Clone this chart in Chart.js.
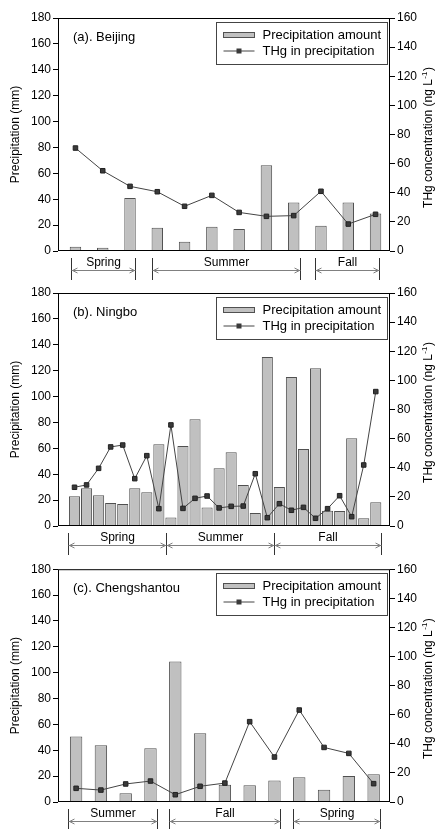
<!DOCTYPE html>
<html>
<head>
<meta charset="utf-8">
<title>Precipitation amount and THg in precipitation</title>
<script src="https://cdn.jsdelivr.net/npm/chart.js@4.4.1/dist/chart.umd.min.js"></script>
<style>
    html, body { margin: 0; padding: 0; background: #fff; }
    #wrap { position: relative; width: 435px; height: 829px; overflow: hidden; }
    #wrap canvas { position: absolute; left: 0; }
</style>
</head>
<body>
<div id="wrap">
    <canvas id="chartA" width="435" height="282" style="top:0;width:435px;height:282px"></canvas>
    <canvas id="chartB" width="435" height="278" style="top:282px;width:435px;height:278px"></canvas>
    <canvas id="chartC" width="435" height="269" style="top:560px;width:435px;height:269px"></canvas>
</div>
<script>
// ---- data ----

// (a) Beijing
const precipBeijing = [3.2, 2.5, 41, 18, 7.2, 18.8, 17, 66.2, 37.4, 19.6, 37.4, 28.9];
const thgBeijing = [70.7, 55.1, 44.4, 40.7, 30.7, 38.2, 26.5, 23.8, 24.3, 41, 18.5, 25.2];
const seasonsBeijing = ['Spring', 'Summer', 'Fall'];
const seasonSpansBeijing = [[0.84, 3.18], [3.82, 9.23], [9.79, 12.12]];

// (b) Ningbo
const precipNingbo = [22.9, 29.1, 23.7, 17.8, 17.0, 29.1, 26.0, 63.1, 6.6, 61.8, 82.4, 14.2, 44.6,
    56.9, 31.7, 10.0, 130.6, 30.1, 115.1, 59.5, 121.8, 11.8, 11.5, 67.7, 5.9, 18.3];
const thgNingbo = [26.6, 28.2, 39.6, 54.3, 55.6, 32.5, 48.3, 11.9, 69.4, 12.1, 19.0, 20.6, 12.4,
    13.5, 13.7, 35.9, 5.7, 15.3, 10.8, 12.8, 5.3, 11.9, 20.8, 6.4, 41.9, 92.3];
const seasonsNingbo = ['Spring', 'Summer', 'Fall'];
const seasonSpansNingbo = [[0.49, 8.57], [8.57, 17.56], [17.56, 26.41]];

// (c) Chengshantou
const precipChengshantou = [50.7, 43.8, 6.7, 41.5, 108.7, 53.1, 13.4, 12.9, 16.7, 19.1, 9.5, 20.1, 21.4];
const thgChengshantou = [9.4, 8.2, 12.4, 14.4, 5.0, 10.8, 13.0, 55.2, 30.9, 63.2, 37.5, 33.4, 12.6];
const seasonsChengshantou = ['Summer', 'Fall', 'Spring'];
const seasonSpansChengshantou = [[0.68, 4.25], [4.74, 9.22], [9.73, 13.25]];

// axis ticks
const precipTicks = { min: 0, max: 180, step: 20 };
const thgTicks = { min: 0, max: 160, step: 20 };

const FONT = "'Liberation Sans', Arial, Helvetica, sans-serif";
const BAR_FILL = '#c0c0c0';
const BAR_EDGE = '#505050';
const LINE_COLOR = '#444444';
const MARK_FILL = '#3a3a3a';

/**
 * Draws frame, axis titles, in-plot legend, panel label and season brackets
 */
const panelDecor = {
    id: 'panelDecor',
    afterDatasetsDraw(chart, args, opts) {
        const { ctx, chartArea: a } = chart;
        const xs = chart.scales.x;
        ctx.save();

        // frame
        ctx.strokeStyle = '#000';
        ctx.lineWidth = 1;
        ctx.strokeRect(a.left + 0.5, a.top + 0.5, a.right - a.left - 1, a.bottom - a.top - 1);

        // axis titles (both read bottom to top)
        const cy = (a.top + a.bottom) / 2;
        ctx.fillStyle = '#000';
        ctx.textBaseline = 'middle';
        ctx.textAlign = 'left';
        ctx.font = '12px ' + FONT;
        ctx.save();
        ctx.translate(16, cy);
        ctx.rotate(-Math.PI / 2);
        const lt = 'Precipitation (mm)';
        ctx.fillText(lt, -ctx.measureText(lt).width / 2, 0);
        ctx.restore();

        ctx.save();
        ctx.translate(429, cy + 3);
        ctx.rotate(-Math.PI / 2);
        const rMain = 'THg concentration (ng L', rSup = '-1', rEnd = ')';
        ctx.font = '12px ' + FONT;
        const w1 = ctx.measureText(rMain).width;
        const w3 = ctx.measureText(rEnd).width;
        ctx.font = '8px ' + FONT;
        const w2 = ctx.measureText(rSup).width;
        let x0 = -(w1 + w2 + w3 + 1) / 2;
        ctx.font = '12px ' + FONT;
        ctx.fillText(rMain, x0, 0);
        ctx.font = '8px ' + FONT;
        ctx.fillText(rSup, x0 + w1 + 0.5, -4);
        ctx.font = '12px ' + FONT;
        ctx.fillText(rEnd, x0 + w1 + w2 + 1, 0);
        ctx.restore();

        // panel label
        ctx.font = '13px ' + FONT;
        ctx.fillText(opts.label, a.left + 15, a.top + 19);

        // legend box
        const bx = Math.round(a.right) - 173.5;
        const by = Math.round(a.top) + 4.5;
        ctx.fillStyle = '#fff';
        ctx.fillRect(bx, by, 171, 42);
        ctx.strokeStyle = '#444';
        ctx.strokeRect(bx, by, 171, 42);
        const r1 = by + 12.5, r2 = by + 28.5;
        ctx.fillStyle = BAR_FILL;
        ctx.fillRect(bx + 7, r1 - 2.5, 31, 5);
        ctx.strokeStyle = BAR_EDGE;
        ctx.strokeRect(bx + 7, r1 - 2.5, 31, 5);
        ctx.strokeStyle = LINE_COLOR;
        ctx.beginPath();
        ctx.moveTo(bx + 7, r2);
        ctx.lineTo(bx + 38, r2);
        ctx.stroke();
        ctx.fillStyle = MARK_FILL;
        ctx.fillRect(bx + 20, r2 - 2.5, 5, 5);
        ctx.fillStyle = '#000';
        ctx.font = '13px ' + FONT;
        ctx.fillText('Precipitation amount', bx + 46, r1);
        ctx.fillText('THg in precipitation', bx + 46, r2);

        // season brackets under the axis
        const base = Math.round(a.bottom);
        ctx.font = '12px ' + FONT;
        ctx.textAlign = 'center';
        opts.seasons.forEach((name, i) => {
            const s = Math.round(xs.getPixelForValue(opts.spans[i][0])) + 0.5;
            const e = Math.round(xs.getPixelForValue(opts.spans[i][1])) + 0.5;
            const ay = base + 19.5;
            ctx.strokeStyle = '#333';
            ctx.beginPath();
            ctx.moveTo(s, base + 7);
            ctx.lineTo(s, base + 29);
            ctx.moveTo(e, base + 7);
            ctx.lineTo(e, base + 29);
            ctx.stroke();
            ctx.strokeStyle = '#808080';
            ctx.beginPath();
            ctx.moveTo(s, ay);
            ctx.lineTo(e, ay);
            ctx.moveTo(s + 6, ay - 2.5);
            ctx.lineTo(s + 1, ay);
            ctx.lineTo(s + 6, ay + 2.5);
            ctx.moveTo(e - 6, ay - 2.5);
            ctx.lineTo(e - 1, ay);
            ctx.lineTo(e - 6, ay + 2.5);
            ctx.stroke();
            ctx.fillStyle = '#000';
            ctx.fillText(name, (s + e) / 2, base + 12);
        });

        ctx.restore();
    }
};

/**
 * Build one panel: bars for precipitation (left axis), line for THg (right axis)
 */
function buildPanel(canvasId, cfg) {
    const pts = arr => arr.map((v, i) => ({ x: i + 1, y: v }));
    const tickFont = { family: FONT, size: 12 };

    return new Chart(document.getElementById(canvasId), {
        data: {
            datasets: [
                {
                    type: 'line',
                    label: 'THg in precipitation',
                    data: pts(cfg.thg),
                    yAxisID: 'y1',
                    order: 0,
                    borderColor: LINE_COLOR,
                    borderWidth: 1,
                    tension: 0,
                    pointStyle: 'rect',
                    pointRadius: 3.2,
                    pointBackgroundColor: MARK_FILL,
                    pointBorderColor: '#222',
                    pointBorderWidth: 1
                },
                {
                    type: 'bar',
                    label: 'Precipitation amount',
                    data: pts(cfg.precip),
                    yAxisID: 'y',
                    order: 1,
                    backgroundColor: BAR_FILL,
                    borderColor: BAR_EDGE,
                    borderWidth: 1,
                    categoryPercentage: 1,
                    barPercentage: cfg.barPct
                }
            ]
        },
        options: {
            responsive: false,
            animation: false,
            devicePixelRatio: 1,
            layout: { padding: { top: cfg.padTop, bottom: cfg.padBottom, left: 0, right: 0 } },
            scales: {
                x: {
                    type: 'linear',
                    min: cfg.xMin,
                    max: cfg.xMax,
                    offset: false,
                    grid: { offset: false },
                    display: false
                },
                y: {
                    position: 'left',
                    min: precipTicks.min,
                    max: precipTicks.max,
                    ticks: { stepSize: precipTicks.step, color: '#000', font: tickFont, padding: 2 },
                    grid: { drawOnChartArea: false, drawTicks: true, tickLength: 5, color: '#000' },
                    border: { display: false },
                    afterFit(scale) { scale.width = 58; }
                },
                y1: {
                    position: 'right',
                    min: thgTicks.min,
                    max: thgTicks.max,
                    ticks: { stepSize: thgTicks.step, color: '#000', font: tickFont, padding: 2 },
                    grid: { drawOnChartArea: false, drawTicks: true, tickLength: 5, color: '#000' },
                    border: { display: false },
                    afterFit(scale) { scale.width = 45; }
                }
            },
            plugins: {
                legend: { display: false },
                tooltip: { enabled: false },
                panelDecor: { label: cfg.label, seasons: cfg.seasons, spans: cfg.spans }
            }
        },
        plugins: [panelDecor]
    });
}

buildPanel('chartA', {
    label: '(a). Beijing',
    precip: precipBeijing, thg: thgBeijing,
    seasons: seasonsBeijing, spans: seasonSpansBeijing,
    xMin: 0.36, xMax: 12.53, barPct: 0.42,
    padTop: 18, padBottom: 31
});

buildPanel('chartB', {
    label: '(b). Ningbo',
    precip: precipNingbo, thg: thgNingbo,
    seasons: seasonsNingbo, spans: seasonSpansNingbo,
    xMin: -0.37, xMax: 27.18, barPct: 0.92,
    padTop: 11, padBottom: 34
});

buildPanel('chartC', {
    label: '(c). Chengshantou',
    precip: precipChengshantou, thg: thgChengshantou,
    seasons: seasonsChengshantou, spans: seasonSpansChengshantou,
    xMin: 0.27, xMax: 13.66, barPct: 0.5,
    padTop: 9, padBottom: 27
});
</script>
</body>
</html>
